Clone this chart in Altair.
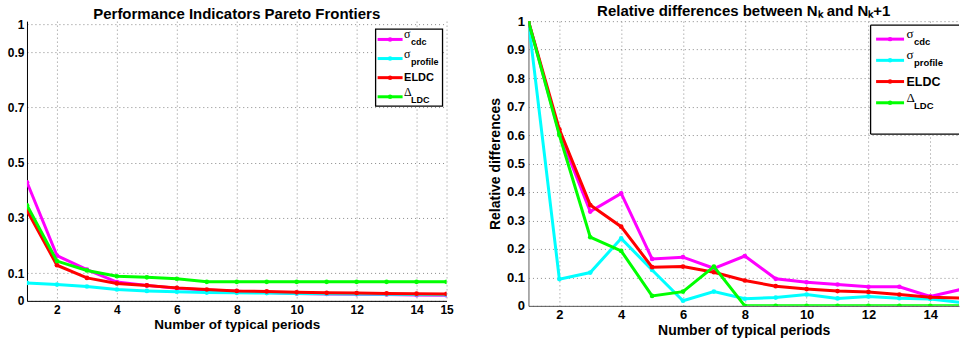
import altair as alt
import pandas as pd

# ---------------- data ----------------
periods = list(range(1, 16))
series_names = ["sigma_cdc", "sigma_profile", "ELDC", "Delta_LDC"]
series_colors = ["#ff00ff", "#00ffff", "#ff0000", "#00ff00"]
legend_main = ["σ", "σ", "ELDC", "Δ"]
legend_sub = ["cdc", "profile", "", "LDC"]

left_cdc = [0.429, 0.164, 0.113, 0.068, 0.056, 0.046, 0.039, 0.035, 0.030, 0.027, 0.025, 0.024, 0.023, 0.021, 0.020]
left_profile = [0.065, 0.059, 0.052, 0.041, 0.036, 0.033, 0.030, 0.029, 0.028, 0.027, 0.026, 0.025, 0.024, 0.023, 0.022]
left_eldc = [0.327, 0.129, 0.083, 0.063, 0.056, 0.047, 0.041, 0.036, 0.034, 0.031, 0.029, 0.028, 0.027, 0.026, 0.025]
left_dldc = [0.346, 0.144, 0.110, 0.089, 0.085, 0.080, 0.069, 0.069, 0.069, 0.069, 0.069, 0.069, 0.069, 0.069, 0.069]

right_cdc = [1.0, 0.606, 0.331, 0.395, 0.165, 0.171, 0.132, 0.175, 0.095, 0.083, 0.075, 0.067, 0.067, 0.033, 0.058]
right_profile = [1.0, 0.094, 0.117, 0.237, 0.126, 0.018, 0.050, 0.025, 0.029, 0.040, 0.026, 0.033, 0.027, 0.024, 0.012]
right_eldc = [1.0, 0.620, 0.354, 0.278, 0.136, 0.138, 0.118, 0.089, 0.069, 0.059, 0.052, 0.049, 0.040, 0.030, 0.027]
right_dldc = [1.0, 0.600, 0.241, 0.193, 0.035, 0.050, 0.138, 0.0, 0.0, 0.0, 0.0, 0.0, 0.0, 0.0, 0.0]

left_title = "Performance Indicators Pareto Frontiers"
right_title = "Relative differences between Nₖ and Nₖ+1"
x_title = "Number of typical periods"
right_y_title = "Relative differences"
left_x_ticks = [2, 4, 6, 8, 10, 12, 14, 15]
left_y_ticks = [0, 0.1, 0.3, 0.5, 0.7, 0.9, 1]
right_x_ticks = [2, 4, 6, 8, 10, 12, 14]
right_y_ticks = [0, 0.1, 0.2, 0.3, 0.4, 0.5, 0.6, 0.7, 0.8, 0.9, 1]


def long_df(cols):
    rows = []
    for name, vals in zip(series_names, cols):
        for x, v in zip(periods, vals):
            rows.append({"x": x, "y": v, "series": name})
    return pd.DataFrame(rows)


left_df = long_df([left_cdc, left_profile, left_eldc, left_dldc])
right_df = long_df([right_cdc, right_profile, right_eldc, right_dldc])
legend_df = pd.DataFrame({"series": series_names, "label": legend_main,
                          "sub": legend_sub, "row": [0, 1, 2, 3]})

color_scale = alt.Scale(domain=series_names, range=series_colors)
FONT = "Liberation Sans"


def axis_common(**kw):
    base = dict(labelFont=FONT, labelFontWeight="bold", labelFontSize=12, labelColor="black",
                titleFont=FONT, titleFontWeight="bold", titleFontSize=13.5, titleColor="black",
                grid=True, gridDash=[1, 3], gridColor="#8a8a8a", gridWidth=1,
                ticks=False, tickSize=0, labelFlush=False, labelOverlap=False,
                format="~g")
    base.update(kw)
    return alt.Axis(**base)


def data_layers(df, xscale, yscale, xaxis, yaxis):
    layers = []
    for name in series_names:
        base = alt.Chart(df).transform_filter(alt.datum.series == name)
        enc = dict(
            x=alt.X("x:Q", scale=xscale, axis=xaxis),
            y=alt.Y("y:Q", scale=yscale, axis=yaxis),
            color=alt.Color("series:N", scale=color_scale, legend=None),
        )
        layers.append(base.mark_line(strokeWidth=3, clip=True).encode(**enc))
        layers.append(base.mark_circle(size=22, opacity=1, clip=True).encode(**enc))
    return alt.layer(*layers)


def legend_layers(box, rows_range, line_x, text_x, sub_x, main_size, greek_size, sub_size, open_right=False):
    bx1, bx2, by1, by2 = box
    yenc = alt.Y("row:Q", scale=alt.Scale(domain=[0, 3], range=rows_range, nice=False, zero=False), axis=None)
    col = alt.Color("series:N", scale=color_scale, legend=None)
    base = alt.Chart(legend_df)
    one = alt.Chart(pd.DataFrame({"k": [0]}))
    layers = []
    if open_right:
        layers.append(one.mark_rect(fill="white").encode(
            x=alt.value(bx1), x2=alt.value(bx2), y=alt.value(by1), y2=alt.value(by2)))
        layers.append(one.mark_rule(color="black", strokeWidth=1.3).encode(
            x=alt.value(bx1), x2=alt.value(bx2), y=alt.value(by1)))
        layers.append(one.mark_rule(color="black", strokeWidth=1.3).encode(
            x=alt.value(bx1), x2=alt.value(bx2), y=alt.value(by2)))
        layers.append(one.mark_rule(color="black", strokeWidth=1.3).encode(
            x=alt.value(bx1), y=alt.value(by1), y2=alt.value(by2)))
    else:
        layers.append(one.mark_rect(fill="white", stroke="black", strokeWidth=1.3).encode(
            x=alt.value(bx1), x2=alt.value(bx2), y=alt.value(by1), y2=alt.value(by2)))
    layers.append(base.mark_rule(strokeWidth=3).encode(
        x=alt.value(line_x[0]), x2=alt.value(line_x[1]), y=yenc, color=col))
    layers.append(base.mark_circle(size=20, opacity=1).encode(
        x=alt.value((line_x[0] + line_x[1]) / 2), y=yenc, color=col))
    layers.append(base.transform_filter("datum.sub == ''").mark_text(
        align="left", baseline="middle", font=FONT, fontWeight="bold", fontSize=main_size).encode(
        x=alt.value(text_x), y=yenc, text="label:N"))
    layers.append(base.transform_filter("datum.sub != ''").mark_text(
        align="left", baseline="middle", font="Liberation Serif", fontSize=greek_size, dy=-5).encode(
        x=alt.value(text_x), y=yenc, text="label:N"))
    layers.append(base.transform_filter("datum.sub != ''").mark_text(
        align="left", baseline="middle", font=FONT, fontWeight="bold", fontSize=sub_size, dy=3).encode(
        x=alt.value(sub_x), y=yenc, text="sub:N"))
    return alt.layer(*layers)


# ---------------- left chart ----------------
LW, LH = 420, 280
left_x_scale = alt.Scale(domain=[1, 15], nice=False, zero=False)
left_y_scale = alt.Scale(domain=[0, 280 / 276.7], nice=False, zero=False)
left_xaxis = axis_common(values=left_x_ticks, title=x_title, labelPadding=4, titlePadding=2,
                         domainColor="black", domainWidth=1)
left_yaxis = axis_common(values=left_y_ticks, title=None, labelPadding=3,
                         domainColor="black", domainWidth=1)
left = alt.layer(
    data_layers(left_df, left_x_scale, left_y_scale, left_xaxis, left_yaxis),
    legend_layers((349, 416, 8, 85), [18.3, 75.7], (351, 376), 377.5, 384.5, 11, 12, 9),
).resolve_scale(y="independent").properties(
    width=LW, height=LH,
    title=alt.TitleParams(left_title, font=FONT, fontWeight="bold", fontSize=15,
                          color="black", anchor="middle", frame="group", offset=-4),
)

# ---------------- right chart ----------------
RW, RH = 431, 285
right_x_scale = alt.Scale(domain=[1, 14.93], nice=False, zero=False)
right_y_scale = alt.Scale(domain=[0, 1], nice=False, zero=False)
right_xaxis = axis_common(values=right_x_ticks, title=x_title, labelPadding=3, titlePadding=2,
                          labelFontSize=13, titleFontSize=14, domainColor="#555", domainWidth=1)
right_yaxis = axis_common(values=right_y_ticks, title=right_y_title, labelPadding=4, titlePadding=4,
                          labelFontSize=13, titleFontSize=14, domainColor="#777", domainWidth=1.2)
right = alt.layer(
    data_layers(right_df, right_x_scale, right_y_scale, right_xaxis, right_yaxis),
    legend_layers((342.5, RW, 4, 113), [18, 81.7], (348, 376), 378.5, 386, 12.5, 13, 9.5, open_right=True),
).resolve_scale(y="independent").properties(
    width=RW, height=RH,
    title=alt.TitleParams(right_title, font=FONT, fontWeight="bold", fontSize=15,
                          color="black", anchor="middle", frame="group", offset=-4),
)

chart = alt.hconcat(left, right, spacing=82, bounds="flush").properties(
    padding={"left": 7, "right": 0, "top": 4, "bottom": 0},
    background="white",
).configure_view(stroke=None)

chart.save("out.html", embed_options={"renderer": "svg", "actions": False})
